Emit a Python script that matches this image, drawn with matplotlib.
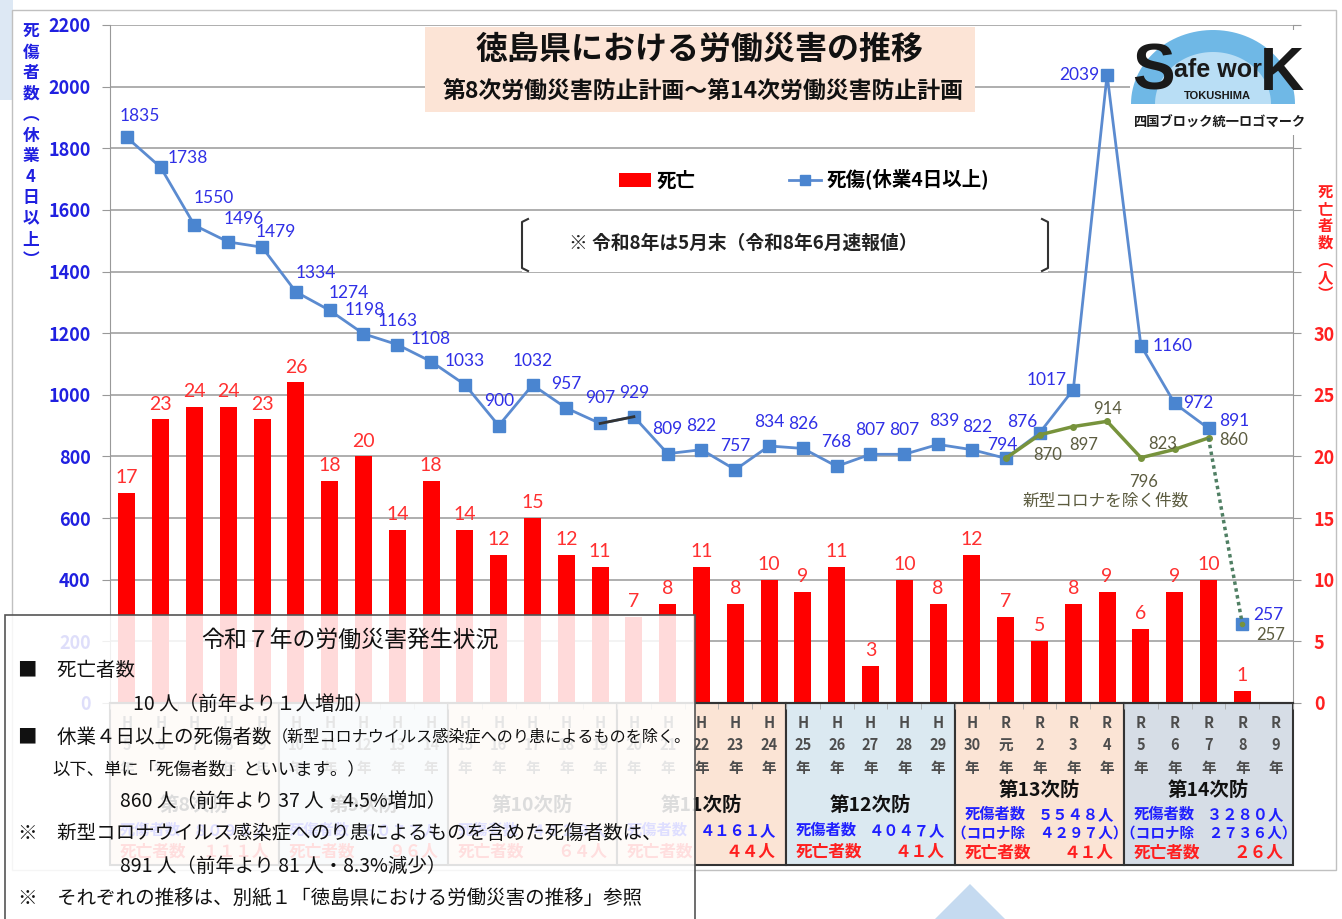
import numpy as np
import matplotlib
matplotlib.use('Agg')
import matplotlib.pyplot as plt
import matplotlib.transforms as mtransforms
from matplotlib.patches import Rectangle, Polygon
from matplotlib.lines import Line2D

plt.rcParams['font.family'] = ['Noto Sans CJK JP', 'DejaVu Sans']

# ---- データ ----
era = ['H'] * 26 + ['R'] * 9
era_num = ['5', '6', '7', '8', '9', '10', '11', '12', '13', '14', '15', '16', '17', '18',
           '19', '20', '21', '22', '23', '24', '25', '26', '27', '28', '29', '30',
           '元', '2', '3', '4', '5', '6', '7', '8', '9']
year_labels = [f'{e}\n{n}\n年' for e, n in zip(era, era_num)]

# 死亡者数 (人)
deaths = [17, 23, 24, 24, 23, 26, 18, 20, 14, 18, 14, 12, 15, 12, 11, 7, 8,
          11, 8, 10, 9, 11, 3, 10, 8, 12, 7, 5, 8, 9, 6, 9, 10, 1]
# 死傷者数 (休業4日以上)
casualties = [1835, 1738, 1550, 1496, 1479, 1334, 1274, 1198, 1163, 1108, 1033, 900,
              1032, 957, 907, 929, 809, 822, 757, 834, 826, 768, 807, 807, 839, 822,
              794, 876, 1017, 2039, 1160, 972, 891, 257]
# 新型コロナを除く件数 (R元〜R8)
covid_start = 26
covid_excl = [794, 870, 897, 914, 796, 823, 860, 257]

plans = ['第8次防', '第9次防', '第10次防', '第11次防', '第12次防', '第13次防', '第14次防']
plan_cas = ['８０９８人', '６０７７人', '４８２９人', '４１６１人', '４０４７人', '５５４８人', '３２８０人']
plan_covid = ['', '', '', '', '', '（コロナ除　４２９７人）', '（コロナ除　２７３６人）']
plan_dead = ['１１１人', '９６人', '６４人', '４４人', '４１人', '４１人', '２６人']
plan_colors = ['#fbe4d5', '#dbe9f1', '#fbe4d5', '#fbe4d5', '#dbe9f1', '#fbe4d5', '#d6dde6']

# ラベル位置の調整 (px)
blue_off = [(13, -21), (27, -9), (19, -27), (15, -23), (14, -15), (20, -19), (19, -17),
            (1, -24), (0, -24), (0, -23), (0, -24), (0, -25), (0, -24), (0, -24), (0, -25),
            (0, -24), (0, -25), (0, -24), (0, -24), (0, -24), (0, -24), (0, -24), (0, -24),
            (0, -24), (6, -23), (5, -23), (-3, -13), (-17, -11), (-27, -10), (-28, 0),
            (32, 0), (24, 0), (26, -7), (26, -9)]
green_off = [None, (8, 20), (10, 18), (0, -12), (3, 24), (-12, -5), (25, 2), (28, 11)]

W, H = 1342, 919


def fx(p):
    return p / W


def fy(p):
    return 1 - p / H


def ty(p):
    return (703 - p) / 678


fig = plt.figure(figsize=(13.42, 9.19), dpi=100)
ax = fig.add_axes([fx(110), fy(703), (1293 - 110) / W, (703 - 25) / H])
ax2 = ax.twinx()
ax.set_zorder(2)
ax2.set_zorder(1)
ax.patch.set_visible(False)

x = np.arange(len(deaths))
ax.set_xlim(-0.5, 34.5)
ax.set_ylim(0, 2200)
ax2.set_ylim(0, 55)

# 死亡 (棒)
ax2.bar(x, deaths, width=0.5, color='#ff0000', zorder=2)
for i, v in enumerate(deaths):
    ax2.annotate(str(v), (i, v), xytext=(0, 5), textcoords='offset points',
                 ha='center', va='bottom', color='#ff3030', fontsize=14,
                 family=['Lato', 'Noto Sans CJK JP'])

ax2.set_yticks(range(0, 56, 5))
ax2.set_yticklabels([str(v) if v <= 30 else '' for v in range(0, 56, 5)])
ax2.grid(axis='y', color='#a8a8a8', lw=1.3)
ax2.set_axisbelow(True)
ax2.tick_params(axis='y', length=6, color='#999999', pad=9, labelsize=13,
                labelcolor='#ff2020')
for lb in ax2.get_yticklabels():
    lb.set_fontweight('bold')

# 死傷 (折れ線)
blue = '#5b8bd0'
ax.plot(x[:33], casualties[:33], color=blue, lw=2, marker='s', ms=8,
        mfc='#4a85d0', mec='#4a85d0', zorder=3)
ax.plot(x[14:16], casualties[14:16], color='#333333', lw=2, zorder=3)
ax.plot(x[33], casualties[33], marker='s', ms=8, color='#4a85d0', zorder=3)
for i, v in enumerate(casualties):
    dx, dy = blue_off[i]
    ax.annotate(str(v), (i, v), xytext=(dx * 0.72, -dy * 0.72), textcoords='offset points',
                ha='center', va='center', color='#2f2fe6', fontsize=12.5,
                family=['Lato', 'Noto Sans CJK JP'], zorder=4)

# 新型コロナを除く件数
gx = x[covid_start:]
ax.plot(gx[:7], covid_excl[:7], color='#77933c', lw=2.5, marker='o', ms=4, zorder=4)
ax.plot(gx[6:8], covid_excl[6:8], color='#4f7f63', lw=2.5, ls=(0, (1, 1)), zorder=4)
ax.plot(gx[7], covid_excl[7], marker='o', ms=3, color='#77933c', zorder=4)
for j, v in enumerate(covid_excl):
    if green_off[j] is None:
        continue
    dx, dy = green_off[j]
    ax.annotate(str(v), (gx[j], v), xytext=(dx * 0.72, -dy * 0.72), textcoords='offset points',
                ha='center', va='center', color='#5c5c40', fontsize=12,
                family=['Lato', 'Noto Sans CJK JP'], zorder=4)
ax.text(28.95, 655, '新型コロナを除く件数', ha='center', va='center', fontsize=12,
        color='#5c5c40', zorder=4)

ax.set_yticks(range(0, 2201, 200))
ax.tick_params(axis='y', length=6, color='#999999', pad=8, labelsize=13, labelcolor='#2020e0')
for lb in ax.get_yticklabels():
    lb.set_fontweight('bold')

for s in ['top', 'right']:
    ax.spines[s].set_visible(False)
for s in ['top', 'left', 'bottom']:
    ax2.spines[s].set_visible(False)
ax.spines['left'].set_color('#999999')
ax2.spines['right'].set_color('#999999')
ax.spines['bottom'].set_color('#333333')
ax.spines['bottom'].set_linewidth(1.5)

# 年表
ax.set_xticks(range(35))
ax.set_xticklabels(year_labels, fontsize=10.5, color='#4d4d4d', linespacing=1.5,
                   fontweight='bold')
ax.tick_params(axis='x', length=0, pad=8.5)
ax.set_xticks(np.arange(-0.5, 35, 1), minor=True)
ax.tick_params(axis='x', which='minor', length=4, color='#aaaaaa')

trans = mtransforms.blended_transform_factory(ax.transData, ax.transAxes)
for k in range(7):
    i0 = k * 5
    ax.add_patch(Rectangle((i0 - 0.5, ty(865)), 5, ty(703) - ty(865), transform=trans,
                           clip_on=False, facecolor=plan_colors[k], edgecolor='#333333',
                           lw=1.5, zorder=0.1))
    if plan_covid[k]:
        yt, yb, yr = 790, 814, 853
        ax.text(i0 + 2, ty(833), plan_covid[k], transform=trans, ha='center', va='center',
                fontsize=10.5, color='#1f1fff', fontweight='bold')
    else:
        yt, yb, yr = 805, 830, 852
    ax.text(i0 + 2, ty(yt), plans[k], transform=trans, ha='center', va='center',
            fontsize=14, fontweight='bold', color='#111111')
    ax.text(i0 - 0.2, ty(yb), '死傷者数', transform=trans, ha='left', va='center',
            fontsize=11, fontweight='bold', color='#1f1fff')
    ax.text(i0 + 4.2, ty(yb), plan_cas[k], transform=trans, ha='right', va='center',
            fontsize=11, fontweight='bold', color='#1f1fff')
    ax.text(i0 - 0.2, ty(yr), '死亡者数', transform=trans, ha='left', va='center',
            fontsize=12, fontweight='bold', color='#ff1f1f')
    ax.text(i0 + 4.2, ty(yr), plan_dead[k], transform=trans, ha='right', va='center',
            fontsize=12, fontweight='bold', color='#ff1f1f')

# 軸ラベル (縦書き)
fig.text(fx(31), fy(146), '\n'.join(['死', '傷', '者', '数', '︵', '休', '業', '4', '日', '以', '上', '︶']),
         ha='center', va='center', fontsize=12, fontweight='bold', color='#2020e0',
         linespacing=1.2)
fig.text(fx(1325), fy(243), '\n'.join(['死', '亡', '者', '数', '︵', '人', '︶']),
         ha='center', va='center', fontsize=11, fontweight='bold', color='#ff2020',
         linespacing=1.08)

# 外枠など
fig.add_artist(Rectangle((0, fy(100)), fx(13), fy(0) - fy(100), transform=fig.transFigure,
                         facecolor='#dde8f4', edgecolor='none', zorder=0))
fig.add_artist(Rectangle((fx(12), fy(870)), fx(1336) - fx(12), fy(10) - fy(870),
                         transform=fig.transFigure, facecolor='none', edgecolor='#c0c0c0',
                         lw=1, zorder=0.5))
fig.add_artist(Polygon([(fx(935), fy(919)), (fx(970), fy(884)), (fx(1005), fy(919))],
                       transform=fig.transFigure, facecolor='#c5daf0', edgecolor='none', zorder=5))

# タイトル
fig.add_artist(Rectangle((fx(425), fy(112)), fx(975) - fx(425), fy(27) - fy(112),
                         transform=fig.transFigure, facecolor='#fce4d6', edgecolor='none', zorder=5))
fig.text(fx(700), fy(50), '徳島県における労働災害の推移', ha='center', va='center',
         fontsize=23, fontweight='bold', color='#111111', zorder=6)
fig.text(fx(703), fy(92), '第8次労働災害防止計画～第14次労働災害防止計画', ha='center', va='center',
         fontsize=16.5, fontweight='bold', color='#111111', zorder=6)

# 注記
fig.add_artist(Rectangle((fx(522), fy(272)), fx(1048) - fx(522), fy(218) - fy(272),
                         transform=fig.transFigure, facecolor='white', edgecolor='none', zorder=5))
for xb, hook in [(522, 6), (1048, -6)]:
    fig.add_artist(Line2D([fx(xb + hook), fx(xb), fx(xb), fx(xb + hook)],
                          [fy(219), fy(222), fy(268), fy(271)], transform=fig.transFigure,
                          color='#333333', lw=1.5, zorder=6))
fig.text(fx(743), fy(243), '※ 令和8年は5月末（令和8年6月速報値）', ha='center', va='center',
         fontsize=13.5, fontweight='bold', color='#222222', zorder=6)

# 凡例
handles = [Rectangle((0, 0), 1, 1, facecolor='#ff0000'),
           Line2D([], [], color=blue, lw=2, marker='s', ms=7, mfc='#4a85d0', mec='#4a85d0')]
fig.legend(handles, ['死亡', '死傷(休業4日以上)'], loc='center',
           bbox_to_anchor=(fx(804), fy(180)), ncol=2, frameon=False,
           prop={'size': 14, 'weight': 'bold'}, handlelength=1.65, handletextpad=0.3,
           columnspacing=4.8)

# ロゴ
fig.add_artist(Rectangle((fx(1130), fy(135)), fx(1305) - fx(1130), fy(30) - fy(135),
                         transform=fig.transFigure, facecolor='white', edgecolor='none', zorder=5))
th = np.linspace(0, np.pi, 60)
arch = [(fx(1213 + 82 * np.cos(t)), fy(104 - 74 * np.sin(t))) for t in th]
fig.add_artist(Polygon(arch, closed=True, transform=fig.transFigure, facecolor='#6fb8e6',
                       edgecolor='none', zorder=6))
inner = [(fx(1213 + 58 * np.cos(t)), fy(104 - 52 * np.sin(t))) for t in th]
fig.add_artist(Polygon(inner, closed=True, transform=fig.transFigure, facecolor='#b9def5',
                       edgecolor='none', zorder=6))
fig.text(fx(1153), fy(72), 'S', ha='center', va='center', fontsize=46, fontweight='bold',
         color='#1a1a1a', family='Liberation Sans', zorder=7)
fig.text(fx(1218), fy(70), 'afe wor', ha='center', va='center', fontsize=18, fontweight='bold',
         color='#1a1a1a', family='Liberation Sans', zorder=7)
fig.text(fx(1282), fy(74), 'K', ha='center', va='center', fontsize=44, fontweight='bold',
         color='#1a1a1a', family='Liberation Sans', zorder=7)
fig.text(fx(1217), fy(96), 'TOKUSHIMA', ha='center', va='center', fontsize=8, fontweight='bold',
         color='#1a1a1a', family='Liberation Sans', zorder=7)
fig.text(fx(1220), fy(123), '四国ブロック統一ロゴマーク', ha='center', va='center', fontsize=9.5,
         fontweight='bold', color='#1a1a1a', zorder=7)

# 令和7年の状況 (重ねた枠)
fig.add_artist(Rectangle((fx(5), fy(925)), fx(695) - fx(5), fy(615) - fy(925),
                         transform=fig.transFigure, facecolor=(1, 1, 1, 0.86),
                         edgecolor='#555555', lw=1.2, zorder=8))
notes = [
    (350, 640, '令和７年の労働災害発生状況', 16.5, 'center'),
    (18, 671, '■　死亡者数', 14, 'left'),
    (133, 704, '10 人（前年より１人増加）', 14, 'left'),
    (18, 737, '■　休業４日以上の死傷者数', 14, 'left'),
    (272, 737, '（新型コロナウイルス感染症へのり患によるものを除く。', 11.6, 'left'),
    (52, 769, '以下、単に「死傷者数」といいます。）', 12.5, 'left'),
    (120, 801, '860 人（前年より 37 人・4.5%増加）', 14, 'left'),
    (18, 833, '※　新型コロナウイルス感染症へのり患によるものを含めた死傷者数は、', 14, 'left'),
    (120, 866, '891 人（前年より 81 人・8.3%減少）', 14, 'left'),
    (18, 898, '※　それぞれの推移は、別紙１「徳島県における労働災害の推移」参照', 14, 'left'),
]
for px, py, s, fs, ha in notes:
    fig.text(fx(px), fy(py), s, ha=ha, va='center', fontsize=fs, color='#111111', zorder=9)

fig.savefig('out.png', dpi=100)
